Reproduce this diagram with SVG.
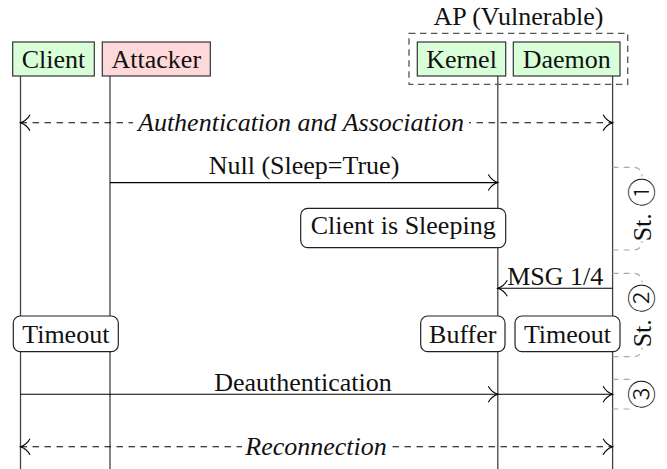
<svg xmlns="http://www.w3.org/2000/svg" width="667" height="469" viewBox="0 0 667 469">
<style>
text{font-family:"Liberation Serif","Times New Roman",serif;font-size:26px;fill:#111}
.it{font-style:italic}
.mid{text-anchor:middle}
.head{stroke:#333;stroke-width:1.2}
.green{fill:#d9ffd9}
.red{fill:#ffd9d9}
.note{fill:#fff;stroke:#222;stroke-width:1.2}
.life{stroke:#444;stroke-width:1.3;fill:none}
.msg{stroke:#000;stroke-width:1.1;fill:none}
.dash{stroke-dasharray:6.5 5.5}
.stage{stroke:#aaa;stroke-width:1.2;fill:none;stroke-dasharray:6 5}
.circ{font-family:"Noto Sans CJK SC","DejaVu Sans",sans-serif;font-size:29px;font-weight:300}
</style>
<defs>
<marker id="arr" viewBox="-11 -10 12 20" refX="0" refY="0" markerWidth="12" markerHeight="20" markerUnits="userSpaceOnUse" orient="auto-start-reverse" overflow="visible">
<path d="M-9.5,-8 C-7,-3.5 -2.5,-0.8 0,0 C-2.5,0.8 -7,3.5 -9.5,8" fill="none" stroke="#000" stroke-width="1.1" stroke-dasharray="none"/>
</marker>
</defs>

<g id="lifelines">
<line class="life" x1="20.5" y1="76" x2="20.5" y2="469"/>
<line class="life" x1="110" y1="76" x2="110" y2="469"/>
<line class="life" x1="497.8" y1="76" x2="497.8" y2="469"/>
<line class="life" x1="612.6" y1="76" x2="612.6" y2="469"/>
</g>

<g id="ap-group">
<rect x="409" y="33.3" width="218.7" height="51" fill="none" stroke="#555" stroke-width="1.3" stroke-dasharray="6.5 4.5"/>
<text class="mid" x="518.4" y="25">AP (Vulnerable)</text>
</g>

<g id="client">
<rect class="head green" x="12.7" y="42" width="81.6" height="34"/>
<text class="mid" x="53.5" y="68">Client</text>
</g>
<g id="attacker">
<rect class="head red" x="102.3" y="42" width="108" height="34"/>
<text class="mid" x="156.3" y="68">Attacker</text>
</g>
<g id="kernel">
<rect class="head green" x="417.3" y="42" width="88.4" height="34"/>
<text class="mid" x="461.5" y="68">Kernel</text>
</g>
<g id="daemon">
<rect class="head green" x="513.3" y="42" width="106.7" height="34"/>
<text class="mid" x="566.7" y="68">Daemon</text>
</g>

<g id="connectors">
<line class="msg dash" x1="20.5" y1="122.7" x2="612.6" y2="122.7" marker-start="url(#arr)" marker-end="url(#arr)"/>
<rect x="133" y="110" width="336" height="26" fill="#fff"/>
<text class="it mid" x="301" y="130.5">Authentication and Association</text>

<line class="msg" x1="110" y1="182.6" x2="497.8" y2="182.6" marker-end="url(#arr)"/>
<text class="mid" x="304" y="174">Null (Sleep=True)</text>

<line class="msg" x1="612.6" y1="288.3" x2="497.8" y2="288.3" marker-end="url(#arr)"/>
<text class="mid" x="555.3" y="285">MSG 1/4</text>

<line class="msg" x1="20.5" y1="394.3" x2="497.8" y2="394.3" marker-end="url(#arr)"/>
<line class="msg" x1="497.8" y1="394.3" x2="612.6" y2="394.3" marker-end="url(#arr)"/>
<text class="mid" x="303" y="390.5">Deauthentication</text>

<line class="msg dash" x1="20.5" y1="446.7" x2="612.6" y2="446.7" marker-start="url(#arr)" marker-end="url(#arr)"/>
<rect x="242" y="434" width="148" height="26" fill="#fff"/>
<text class="it mid" x="316" y="454.5">Reconnection</text>
</g>

<g id="note-sleeping">
<rect class="note" x="300.7" y="208.3" width="205" height="39.3" rx="7"/>
<text class="mid" x="403.2" y="234.3">Client is Sleeping</text>
</g>
<g id="timeout-client">
<rect class="note" x="13.3" y="316" width="105" height="35.7" rx="7"/>
<text class="mid" x="65.8" y="342.7">Timeout</text>
</g>
<g id="buffer">
<rect class="note" x="420.7" y="316" width="84.3" height="35.7" rx="7"/>
<text class="mid" x="462.8" y="342.7">Buffer</text>
</g>
<g id="timeout-daemon">
<rect class="note" x="515" y="316" width="105" height="35.7" rx="7"/>
<text class="mid" x="567.5" y="342.7">Timeout</text>
</g>

<g id="stages">
<path class="stage" d="M612.6,167.3 H633 Q642,167.3 642,176.5 M612.6,250 H633 Q642,250 642,241"/>
<text transform="translate(650.5,209.5) rotate(-90)" class="mid">St. <tspan class="circ" dy="2">①</tspan></text>
<path class="stage" d="M612.6,273.3 H633 Q642,273.3 642,282.5 M612.6,356.7 H633 Q642,356.7 642,347.5"/>
<text transform="translate(650.5,315.5) rotate(-90)" class="mid">St. <tspan class="circ" dy="2">②</tspan></text>
<path class="stage" d="M612.6,379.3 H633 M612.6,409 H633"/>
<text transform="translate(650.5,394.3) rotate(-90)" class="mid"><tspan class="circ" dy="2">③</tspan></text>
</g>
</svg>
